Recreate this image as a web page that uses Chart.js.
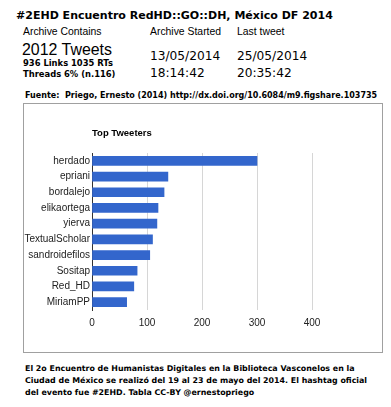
<!DOCTYPE html>
<html>
<head>
<meta charset="utf-8">
<script src="https://cdn.jsdelivr.net/npm/chart.js@4/dist/chart.umd.min.js"></script>
<style>
  body { margin: 0; background: #fff; width: 391px; height: 407px; position: relative; overflow: hidden; color: #000; }
  .t { position: absolute; white-space: nowrap; line-height: 1; }
  .reg { font-family: "Liberation Sans", Arial, sans-serif; }
  .dv { font-family: "DejaVu Sans", sans-serif; }
  .b { font-weight: bold; }
  #box { position: absolute; left: 23px; top: 103px; width: 358px; height: 248px; border: 1px solid #a0a0a0; }
</style>
</head>
<body>

<!-- data-base = baseline of the text, data-w = width to fit (only where set) -->
<div class="t dv b" data-w="317" data-base="19.3" style="left:16px; font-size:11px;">#2EHD Encuentro RedHD::GO::DH, México DF 2014</div>

<div class="t reg" data-base="36" style="left:23px; font-size:10.4px;">Archive Contains</div>
<div class="t reg" data-base="36" style="left:150px; font-size:10.4px;">Archive Started</div>
<div class="t reg" data-base="36" style="left:237px; font-size:10.4px;">Last tweet</div>

<div class="t reg" data-w="90" data-base="55.7" style="left:22px; font-size:16px;">2012 Tweets</div>
<div class="t dv" data-base="60" style="left:150px; font-size:12.2px;">13/05/2014</div>
<div class="t dv" data-base="60" style="left:237px; font-size:12.2px;">25/05/2014</div>
<div class="t dv" data-base="77.3" style="left:150px; font-size:12.2px;">18:14:42</div>
<div class="t dv" data-base="77.3" style="left:237px; font-size:12.2px;">20:35:42</div>

<div class="t dv b" data-base="66" style="left:23px; font-size:8.4px;">936 Links 1035 RTs</div>
<div class="t dv b" data-base="77" style="left:23px; font-size:8.4px;">Threads 6% (n.116)</div>

<div class="t dv b" data-w="352" data-base="98.5" style="left:25px; font-size:8px;">Fuente:&nbsp; Priego, Ernesto (2014) http://dx.doi.org/10.6084/m9.figshare.103735</div>

<div id="box"><canvas id="chart1" width="358" height="248"></canvas></div>

<div class="t dv b" data-base="371.6" style="left:25px; font-size:7.9px;">El 2o Encuentro de Humanistas Digitales en la Biblioteca Vasconelos en la</div>
<div class="t dv b" data-base="383.4" style="left:25px; font-size:7.9px;">Ciudad de México se realizó del 19 al 23 de mayo del 2014. El hashtag oficial</div>
<div class="t dv b" data-base="395.2" style="left:25px; font-size:7.9px;">del evento fue #2EHD. Tabla CC-BY @ernestopriego</div>

<script>
var chartTitle = 'Top Tweeters';
var tweeters = ['herdado', 'epriani', 'bordalejo', 'elikaortega', 'yierva', 'TextualScholar', 'sandroidefilos', 'Sositap', 'Red_HD', 'MiriamPP'];
var tweetCounts = [300, 138, 131, 120, 118, 110, 105, 82, 76, 63];
var axisTicks = [0, 100, 200, 300, 400];

// put each text on its baseline; single lines with data-w get sized to that width
function placeTexts() {
    var els = document.querySelectorAll('.t[data-base]');
    for (var i = 0; i < els.length; i++) {
        var el = els[i];
        var fs = parseFloat(el.style.fontSize);
        if (el.dataset.w) {
            var w = el.getBoundingClientRect().width;
            if (w > 0) {
                fs = fs * parseFloat(el.dataset.w) / w;
                el.style.fontSize = fs.toFixed(2) + 'px';
            }
        }
        el.style.top = (parseFloat(el.dataset.base) - 0.846 * fs).toFixed(1) + 'px';
    }
}
placeTexts();
if (document.fonts) document.fonts.ready.then(placeTexts);

// title drawn at the left edge of the plot area
var titlePlugin = {
    id: 'leftTitle',
    afterDraw: function(chart) {
        var ctx = chart.ctx;
        ctx.save();
        ctx.font = 'bold 9.5px "Liberation Sans", Arial, sans-serif';
        ctx.fillStyle = '#000';
        ctx.textBaseline = 'alphabetic';
        ctx.fillText(chartTitle, chart.chartArea.left, 31.7);
        ctx.restore();
    }
};

var ctx1 = document.getElementById('chart1').getContext('2d');
var chart1 = new Chart(ctx1, {
    type: 'bar',
    data: {
        labels: tweeters,
        datasets: [{
            data: tweetCounts,
            backgroundColor: '#3366cc',
            barThickness: 9
        }]
    },
    plugins: [titlePlugin],
    options: {
        indexAxis: 'y',
        responsive: false,
        animation: false,
        layout: { padding: { top: 49, right: 70, bottom: 12, left: 0 } },
        plugins: {
            legend: { display: false },
            tooltip: { enabled: false }
        },
        scales: {
            x: {
                min: 0,
                max: 400,
                afterBuildTicks: function(scale) {
                    scale.ticks = axisTicks.map(function(v) { return { value: v }; });
                },
                afterFit: function(scale) { scale.height = 30; },
                grid: {
                    drawTicks: false,
                    color: function(c) { return c.tick && c.tick.value === 0 ? 'rgba(0,0,0,0)' : '#d6d6d6'; }
                },
                border: { display: false },
                ticks: {
                    padding: 7,
                    color: '#222',
                    font: { family: '"Liberation Sans", Arial, sans-serif', size: 10 }
                }
            },
            y: {
                afterFit: function(scale) { scale.width = 68; },
                grid: { display: false, drawTicks: false },
                border: { display: true, color: '#333', width: 1 },
                ticks: {
                    padding: 2,
                    color: '#222',
                    font: { family: '"Liberation Sans", Arial, sans-serif', size: 10 }
                }
            }
        }
    }
});
</script>
</body>
</html>
